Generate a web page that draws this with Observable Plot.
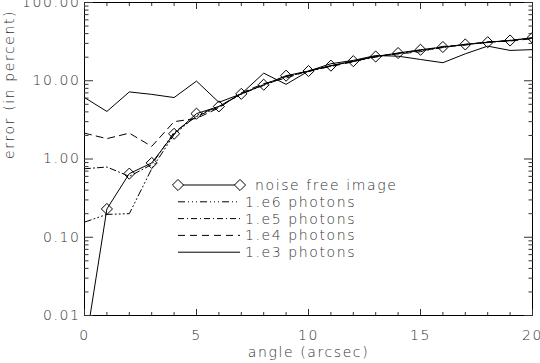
<!DOCTYPE html>
<html><head><meta charset="utf-8">
<script src="https://cdn.jsdelivr.net/npm/d3@7"></script>
<script src="https://cdn.jsdelivr.net/npm/@observablehq/plot@0.6"></script>
<style>
body{margin:0;background:#fff;}
#chart svg text{letter-spacing:1.6px;font-weight:200;}
</style>
</head><body><div id="chart"></div>
<script>
// ---- data ----
const angles = d3.range(0, 21);
const noiseFree = [0.0035, 0.23, 0.65, 0.89, 2.1, 3.8, 4.7, 6.8, 8.9, 11.6, 13.3, 15.6, 17.8, 20.4, 22.6, 24.9, 27.0, 29.1, 31.1, 32.7, 35.5];
const photons1e6 = [0.156, 0.196, 0.20, 0.75, 2.05, 3.6, 4.7, 6.7, 8.9, 11.4, 13.2, 15.5, 17.6, 20.2, 22.5, 24.6, 26.8, 28.9, 30.8, 32.5, 35.0];
const photons1e5 = [0.75, 0.79, 0.60, 0.85, 2.2, 3.5, 4.6, 6.9, 8.7, 11.3, 13.1, 15.4, 17.9, 20.1, 22.3, 24.2, 26.5, 29.3, 31.0, 32.9, 35.2];
const photons1e4 = [2.14, 1.82, 2.14, 1.45, 3.0, 3.3, 4.5, 7.0, 9.2, 10.8, 13.5, 15.2, 17.5, 20.6, 22.0, 23.5, 27.5, 28.5, 31.5, 32.2, 34.5];
const photons1e3 = [6.1, 4.05, 7.2, 6.7, 6.1, 9.9, 5.3, 6.8, 12.5, 9.0, 13.3, 16.5, 18.2, 21.0, 20.6, 18.7, 17.0, 22.1, 27.7, 24.4, 25.0];
const seriesNames = ["noise free image", "1.e6 photons", "1.e5 photons", "1.e4 photons", "1.e3 photons"];
const xMajorTicks = [0, 5, 10, 15, 20];
const xMinorTicks = angles;
const yMajorTicks = [0.01, 0.1, 1, 10, 100];
const yMinorTicks = yMajorTicks.slice(0, -1).flatMap(d => d3.range(2, 10).map(k => +(d * k).toPrecision(3)));
const xLabel = "angle (arcsec)";
const yLabel = "error (in percent)";

// styles
const dashes = [null, "7,3,1,3,1,3,1,3", "6,3,1,3", "7,5", null];
const valuesList = [noiseFree, photons1e6, photons1e5, photons1e4, photons1e3];
const series = seriesNames.map((name, i) => ({
  name, dash: dashes[i],
  rows: valuesList[i].map((v, j) => ({angle: angles[j], err: v}))
}));

const FS = 14;
const TXT = "#333";
const blank = () => "";
const chart = Plot.plot({
  width: 540, height: 363,
  marginLeft: 84, marginRight: 8, marginTop: 2, marginBottom: 48,
  x: {domain: [0, 20]},
  y: {type: "log", domain: [0.01, 100]},
  style: {fontFamily: "DejaVu Sans", fontSize: FS + "px", color: TXT, background: "#fff"},
  marks: [
    ...series.map(s => Plot.line(s.rows, {x: "angle", y: "err", stroke: "#000", strokeWidth: 1, strokeDasharray: s.dash, clip: true})),
    Plot.dot(series[0].rows, {x: "angle", y: "err", symbol: "diamond2", r: 5, stroke: "#000", fill: "none", strokeWidth: 1, clip: true}),
    Plot.frame({stroke: "#000", strokeWidth: 1}),
    Plot.axisX(xMajorTicks, {anchor: "bottom", tickSize: -6, tickPadding: 21, label: null, tickFormat: d => String(d), fontSize: FS}),
    Plot.axisX(xMinorTicks, {anchor: "bottom", tickSize: -3, label: null, tickFormat: blank}),
    Plot.axisX(xMajorTicks, {anchor: "top", tickSize: -6, label: null, tickFormat: blank}),
    Plot.axisX(xMinorTicks, {anchor: "top", tickSize: -3, label: null, tickFormat: blank}),
    Plot.axisY(yMajorTicks, {anchor: "left", tickSize: -9, tickPadding: 13, label: null, tickFormat: d3.format(".2f"), fontSize: FS}),
    Plot.axisY(yMinorTicks, {anchor: "left", tickSize: -4.5, label: null, tickFormat: blank}),
    Plot.axisY(yMajorTicks, {anchor: "right", tickSize: -9, label: null, tickFormat: blank}),
    Plot.axisY(yMinorTicks, {anchor: "right", tickSize: -4.5, label: null, tickFormat: blank}),
    Plot.text([xLabel], {frameAnchor: "bottom", dy: 41, text: d => d, fontSize: FS, fill: TXT}),
    Plot.text([yLabel], {frameAnchor: "left", dx: -75, rotate: -90, text: d => d, fontSize: FS, fill: TXT})
  ]
});

// legend (inside plot, as in the reference)
const svg = d3.select(chart);
const lg = svg.append("g").attr("class", "legend").attr("text-anchor", "start");
const lx0 = 178, lx1 = 240, ly0 = 185, lstep = 16.8;
series.forEach((s, i) => {
  const y = ly0 + i * lstep;
  lg.append("line").attr("x1", lx0).attr("x2", lx1).attr("y1", y).attr("y2", y)
    .attr("stroke", "#000").attr("stroke-width", 1).attr("stroke-dasharray", s.dash);
  if (i === 0) {
    [lx0, lx1].forEach(x => lg.append("path")
      .attr("d", d3.symbol(d3.symbolDiamond2, 25 * Math.PI)())
      .attr("transform", `translate(${x},${y})`)
      .attr("fill", "#fff").attr("stroke", "#000").attr("stroke-width", 1));
  }
  lg.append("text").attr("x", i === 0 ? 255 : 245).attr("y", y).attr("dy", "0.35em")
    .attr("fill", TXT).attr("font-size", FS).text(s.name);
});
document.getElementById("chart").appendChild(chart);
</script>
</body></html>
